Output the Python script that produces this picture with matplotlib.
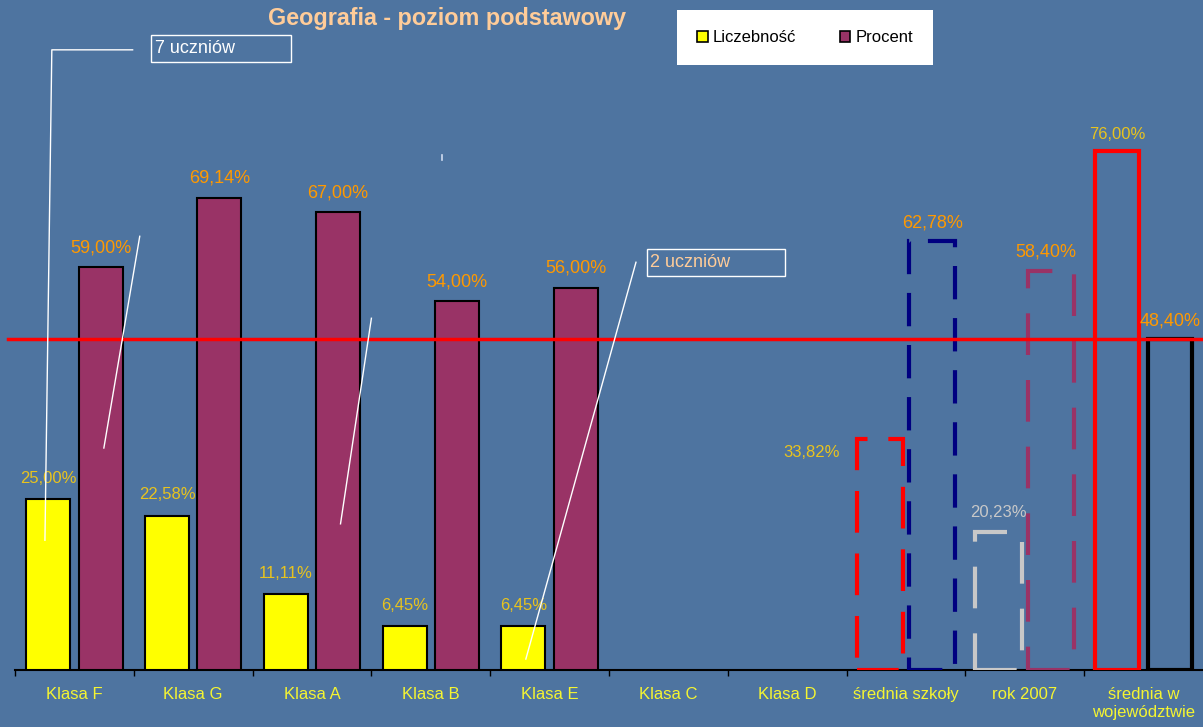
import matplotlib
matplotlib.use("Agg")
import matplotlib.pyplot as plt
from matplotlib.patches import Patch, Rectangle

plt.rcParams['font.family'] = ['Liberation Sans', 'DejaVu Sans']

# ---- data ----
categories = ["Klasa F", "Klasa G", "Klasa A", "Klasa B", "Klasa E", "Klasa C",
              "Klasa D", "średnia szkoły", "rok 2007", "średnia w\nwojewództwie"]
class_liczebnosc = [25.00, 22.58, 11.11, 6.45, 6.45, None, None]
class_procent = [59.00, 69.14, 67.00, 54.00, 56.00, None, None]
szkola_liczebnosc = 33.82
szkola_procent = 62.78
rok2007_liczebnosc = 20.23
rok2007_procent = 58.40
woj_liczebnosc = 76.00
woj_procent = 48.40
title = "Geografia - poziom podstawowy"
legend_labels = ["Liczebność", "Procent"]
callouts = ["7 uczniów", "2 uczniów"]

BG = '#4E74A0'
YEL = '#FFFF00'
PUR = '#993366'
GOLD = '#E8C31E'
ORANGE = '#FF9900'

def fmt(v):
    return f"{v:.2f}".replace('.', ',') + '%'

fig = plt.figure(figsize=(12.03, 7.27), dpi=100, facecolor=BG)
ax = fig.add_axes([15/1203, 57/727, 1188/1203, 670/727])
ax.set_facecolor(BG)
ax.set_xlim(-0.5, 9.5)
ax.set_ylim(0, 670/6.83)

W = 0.37
OFF = 0.22

# class bars
for i, (l, p) in enumerate(zip(class_liczebnosc, class_procent)):
    if l is not None:
        ax.bar(i - OFF, l, W, color=YEL, edgecolor='black', linewidth=1.5, zorder=3)
        ax.annotate(fmt(l), (i - OFF, l), xytext=(0, 15), textcoords='offset points',
                    ha='center', va='center', color=GOLD, fontsize=12)
    if p is not None:
        ax.bar(i + OFF, p, W, color=PUR, edgecolor='black', linewidth=1.5, zorder=3)
        ax.annotate(fmt(p), (i + OFF, p), xytext=(0, 14), textcoords='offset points',
                    ha='center', va='center', color=ORANGE, fontsize=13)

# school average (dashed)
ax.bar(7 - OFF, szkola_liczebnosc, 0.39, fill=False, edgecolor='#FF0000', linewidth=3,
       linestyle=(0, (10, 5)), zorder=3)
ax.annotate(fmt(szkola_liczebnosc), (7 - OFF, szkola_liczebnosc), xytext=(-49, -10),
            textcoords='offset points', ha='center', va='center', color=GOLD, fontsize=12)
ax.bar(7 + OFF, szkola_procent, 0.39, fill=False, edgecolor='#000080', linewidth=3,
       linestyle=(0, (8, 4.5)), zorder=3)
ax.annotate(fmt(szkola_procent), (7 + OFF, szkola_procent), xytext=(0, 13),
            textcoords='offset points', ha='center', va='center', color=ORANGE, fontsize=13)

# 2007 (dashed)
ax.bar(8 - OFF, rok2007_liczebnosc, 0.39, fill=False, edgecolor='#C8C8C8', linewidth=3,
       linestyle=(0, (10, 6)), zorder=3)
ax.annotate(fmt(rok2007_liczebnosc), (8 - OFF, rok2007_liczebnosc), xytext=(0, 14),
            textcoords='offset points', ha='center', va='center', color='#C8C8C8', fontsize=12)
ax.bar(8 + OFF, rok2007_procent, 0.39, fill=False, edgecolor=PUR, linewidth=3,
       linestyle=(0, (10, 6)), zorder=3)
ax.annotate(fmt(rok2007_procent), (8 + OFF, rok2007_procent), xytext=(-4, 14),
            textcoords='offset points', ha='center', va='center', color=ORANGE, fontsize=13)

# voivodeship (solid outline)
ax.bar(9 - OFF, woj_liczebnosc, W, fill=False, edgecolor='#FF0000', linewidth=3, zorder=3)
ax.annotate(fmt(woj_liczebnosc), (9 - OFF, woj_liczebnosc), xytext=(0, 12),
            textcoords='offset points', ha='center', va='center', color=GOLD, fontsize=12)
ax.bar(9 + OFF, woj_procent, W, fill=False, edgecolor='black', linewidth=3, zorder=3)
ax.annotate(fmt(woj_procent), (9 + OFF, woj_procent), xytext=(0, 13),
            textcoords='offset points', ha='center', va='center', color=ORANGE, fontsize=13)

# reference line at voivodeship percent
ax.plot([-0.56, 9.5], [woj_procent, woj_procent], color='#FF0000', linewidth=2.5,
        clip_on=False, zorder=4)

# callout boxes and leader lines
ax.add_patch(Rectangle((0.643, 89.0), 1.177, 4.0, fill=False, edgecolor='white',
                       linewidth=1, zorder=5))
ax.text(0.675, 91.0, callouts[0], color='white', fontsize=13, ha='left', va='center', zorder=5)
ax.add_patch(Rectangle((4.82, 57.7), 1.16, 3.95, fill=False, edgecolor='white',
                       linewidth=1, zorder=5))
ax.text(4.845, 59.7, callouts[1], color='#FFCC99', fontsize=13, ha='left', va='center', zorder=5)

lc = dict(color='white', linewidth=1, zorder=5)
ax.plot([0.49, -0.19, -0.248], [90.8, 90.8, 19.0], **lc)
ax.plot([0.55, 0.248], [63.5, 32.5], **lc)
ax.plot([2.5, 2.24], [51.5, 21.4], **lc)
ax.plot([4.727, 3.80], [59.7, 1.6], **lc)
ax.plot([3.097, 3.097], [75.4, 74.6], color='#D0DCF0', linewidth=1.2, zorder=5)

# axes styling
for s in ['left', 'right', 'top']:
    ax.spines[s].set_visible(False)
ax.spines['bottom'].set_color('black')
ax.spines['bottom'].set_linewidth(1.5)
ax.set_yticks([])
ax.set_xticks(range(len(categories)))
ax.set_xticklabels(categories, color='#F5F531', fontsize=12, va='top', linespacing=1.3)
ax.tick_params(axis='x', which='major', length=0, pad=12)
ax.set_xticks([i - 0.5 for i in range(len(categories))], minor=True)
ax.tick_params(axis='x', which='minor', length=4, width=1, color='black', direction='out')

# title
fig.text(447/1203, 1 - 18/727, title, color='#FFCC99', fontsize=16.8, fontweight='bold',
         ha='center', va='center')

# legend
handles = [Patch(facecolor=YEL, edgecolor='black', linewidth=1.2),
           Patch(facecolor=PUR, edgecolor='black', linewidth=1.2)]
leg = fig.legend(handles, legend_labels, loc='center', ncol=2,
                 bbox_to_anchor=(678/1203 + 127/1203, 1 - 37.5/727),
                 fontsize=12, frameon=True, fancybox=False, framealpha=1,
                 edgecolor='white', facecolor='white', handlelength=0.65, handleheight=0.65,
                 handletextpad=0.3, columnspacing=2.6, borderpad=1.2, borderaxespad=0)
leg.get_frame().set_linewidth(0)

fig.savefig('out.png', dpi=100, facecolor=BG)
